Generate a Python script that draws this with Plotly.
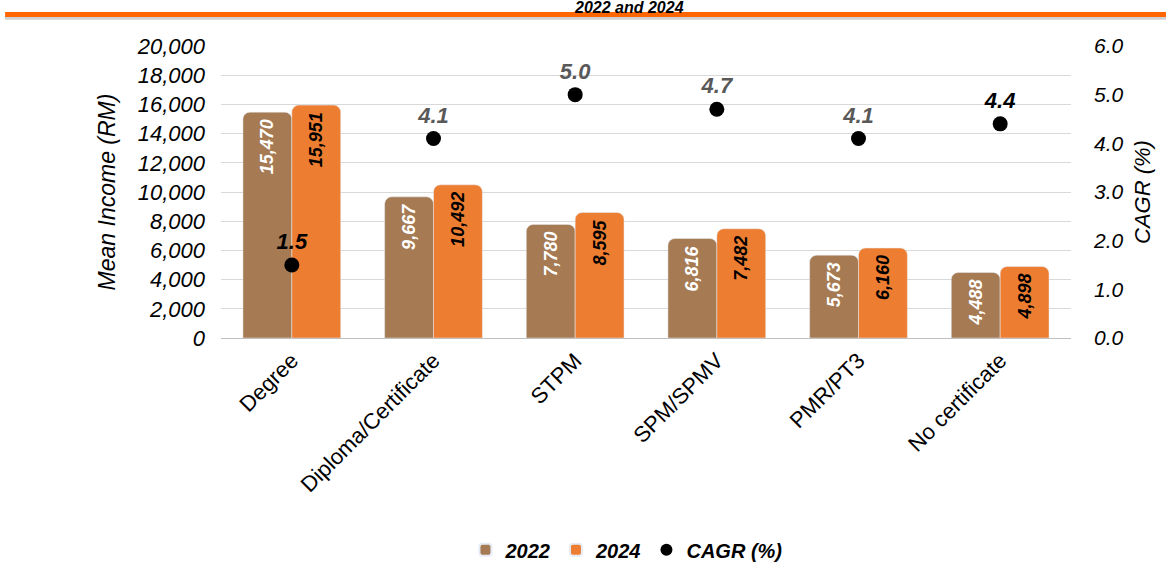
import plotly.graph_objects as go

categories = ["Degree", "Diploma/Certificate", "STPM", "SPM/SPMV", "PMR/PT3", "No certificate"]
income_2022 = [15470, 9667, 7780, 6816, 5673, 4488]
income_2024 = [15951, 10492, 8595, 7482, 6160, 4898]
cagr = [1.5, 4.1, 5.0, 4.7, 4.1, 4.4]
cagr_label_colors = ["#000000", "#595959", "#595959", "#595959", "#595959", "#000000"]

FONT = "Liberation Sans, Arial, sans-serif"
BROWN = "#A67A52"
ORANGE = "#ED7D31"

fig = go.Figure()
fig.add_trace(go.Bar(
    x=categories, y=income_2022, name="<b><i>2022</i></b>",
    marker=dict(color=BROWN, cornerradius=7),
    text=[f"<b><i>{v:,}</i></b>" for v in income_2022],
    textposition="inside", insidetextanchor="end", textangle=-90,
    textfont=dict(color="white", size=18, family=FONT),
))
fig.add_trace(go.Bar(
    x=categories, y=income_2024, name="<b><i>2024</i></b>",
    marker=dict(color=ORANGE, cornerradius=7),
    text=[f"<b><i>{v:,}</i></b>" for v in income_2024],
    textposition="inside", insidetextanchor="end", textangle=-90,
    textfont=dict(color="black", size=18, family=FONT),
))
fig.add_trace(go.Scatter(
    x=categories, y=cagr, name="<b><i>CAGR (%)</i></b>", yaxis="y2",
    mode="markers+text",
    marker=dict(color="black", size=15),
    text=[f"<b><i>{v:.1f}</i></b>" for v in cagr],
    textposition="top center",
    textfont=dict(color=cagr_label_colors, size=22, family=FONT),
))

fig.update_layout(
    width=1166, height=563,
    margin=dict(l=221, r=95, t=46, b=225, autoexpand=False),
    paper_bgcolor="white", plot_bgcolor="white",
    barmode="group", bargap=0.31, bargroupgap=0,
    font=dict(family=FONT, color="black"),
    showlegend=True,
    legend=dict(orientation="h", x=0.477, xanchor="center", y=-0.725, yanchor="middle",
                font=dict(size=20, family=FONT), itemsizing="constant"),
    xaxis=dict(tickangle=-45, tickfont=dict(size=22), showgrid=False, automargin=False,
               showline=True, linecolor="#BFBFBF", linewidth=1, ticks=""),
    yaxis=dict(range=[0, 20000], dtick=2000, tickformat=",", showgrid=True, automargin=False,
               gridcolor="#D9D9D9", gridwidth=1, zeroline=False, ticklabelstandoff=15,
               tickfont=dict(size=22), tickprefix="<i>", ticksuffix="</i>",
               title=dict(text="<i>Mean Income (RM)</i>", font=dict(size=23), standoff=14)),
    yaxis2=dict(range=[0, 6], dtick=1, tickformat=".1f", overlaying="y", side="right",
                showgrid=False, zeroline=False, automargin=False, ticklabelstandoff=22,
                tickfont=dict(size=21), tickprefix="<i>", ticksuffix="</i>",
                title=dict(text="<i>CAGR (%)</i>", font=dict(size=22), standoff=12)),
)

# title (second line of the original heading, at the very top)
fig.add_annotation(text="<b><i>2022 and 2024</i></b>", xref="paper", yref="paper",
                   x=0.48, y=(338 - 7) / 292, showarrow=False, font=dict(size=16, family=FONT),
                   xanchor="center", yanchor="middle")
# shadow + orange rule
fig.add_shape(type="line", xref="paper", yref="paper", x0=-0.254, x1=1.12, y0=1.097, y1=1.097,
              line=dict(color="#D0D0D0", width=4))
fig.add_shape(type="line", xref="paper", yref="paper", x0=-0.254, x1=1.12, y0=1.108, y1=1.108,
              line=dict(color="#FF6600", width=5))

fig.write_html("out.html", config={"displayModeBar": False},
               post_script="document.body.style.margin='0';")
